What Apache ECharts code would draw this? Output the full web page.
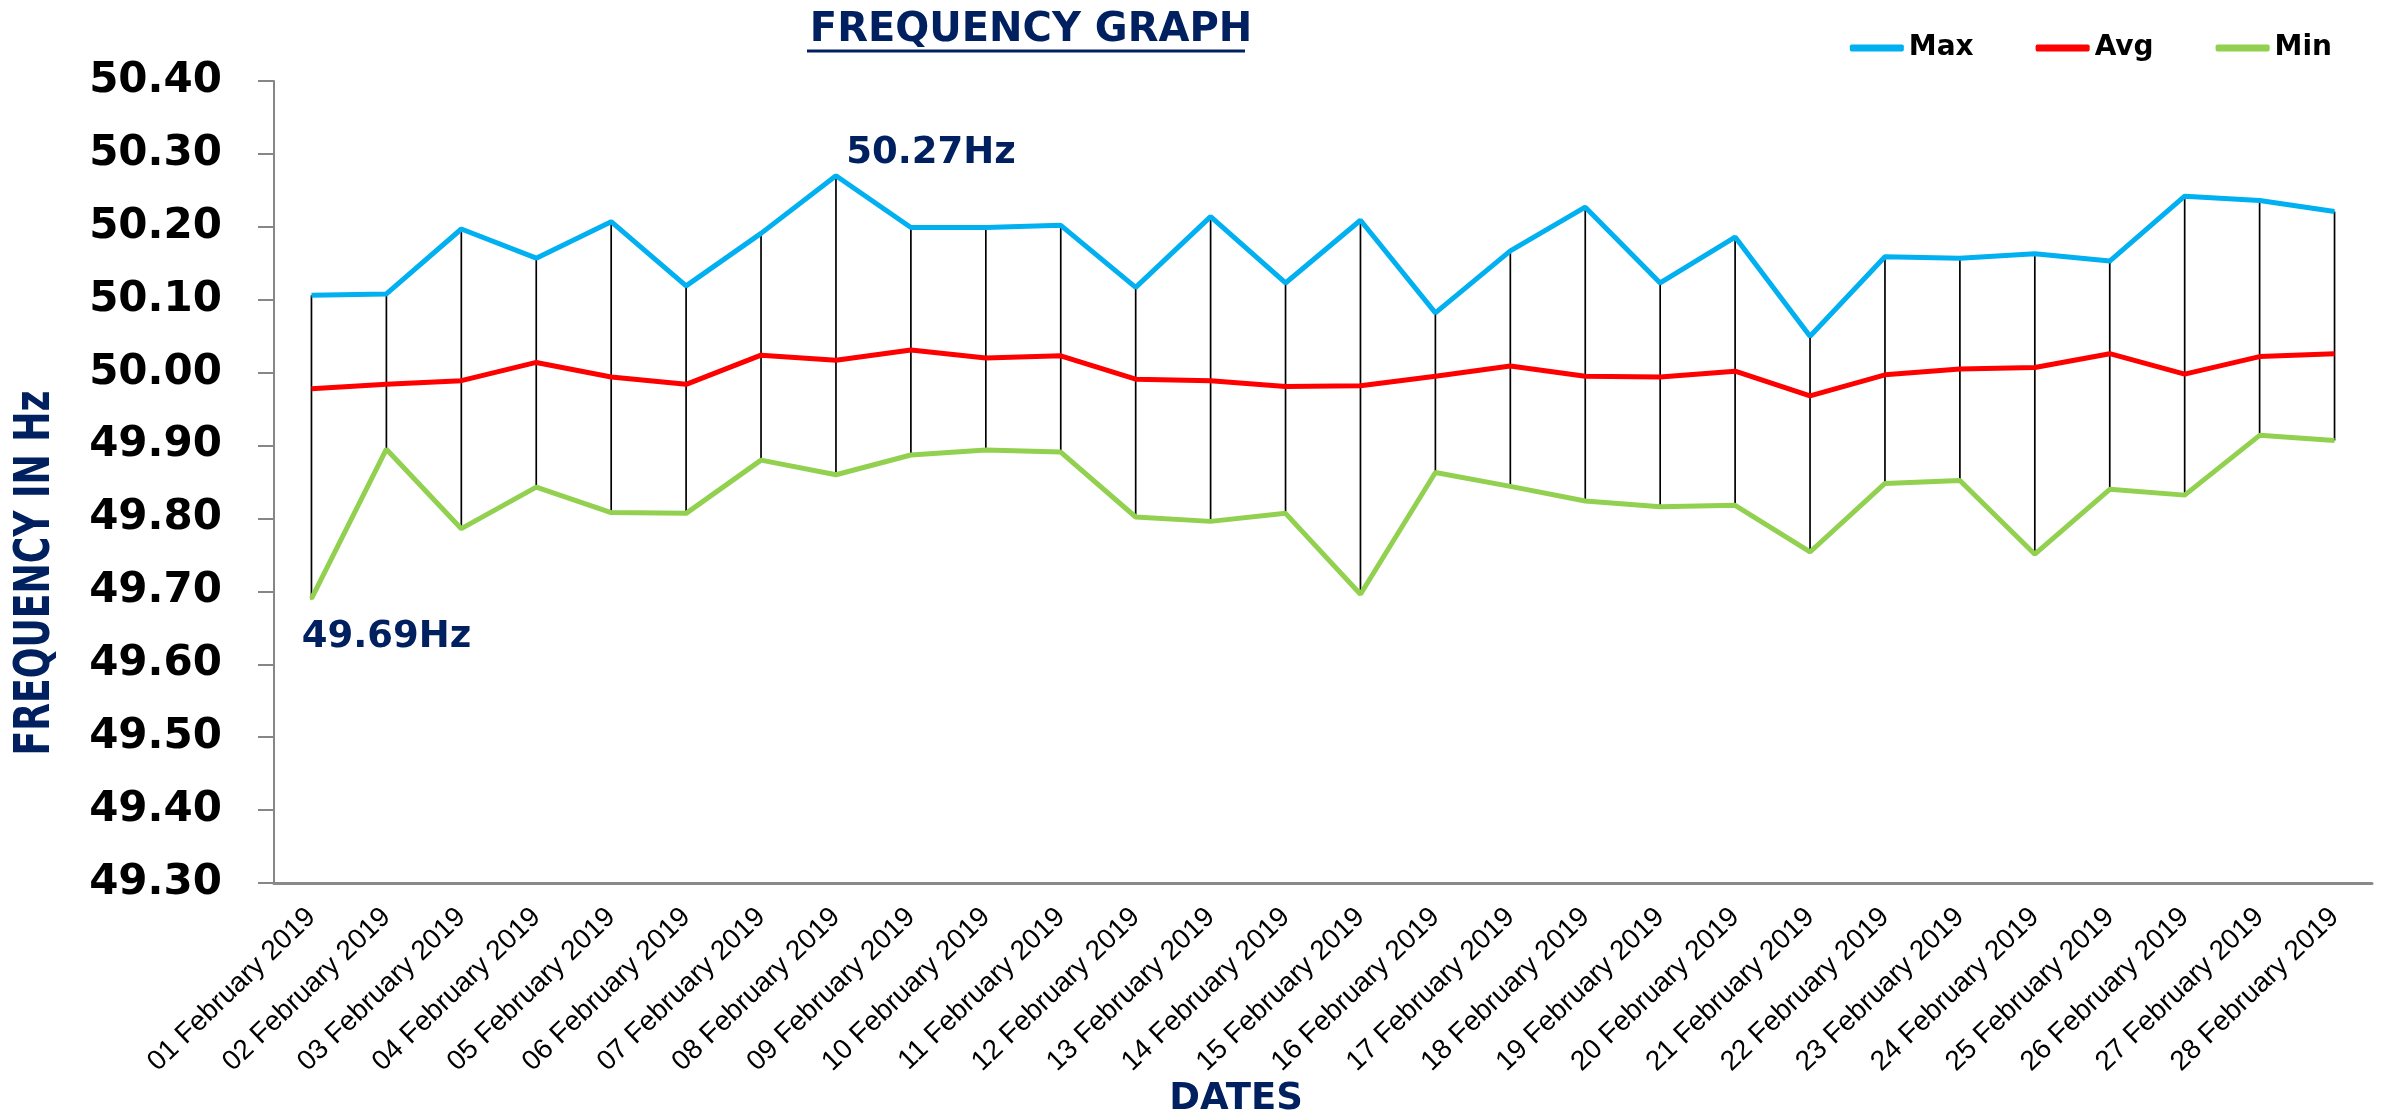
<!DOCTYPE html>
<html>
<head>
<meta charset="utf-8">
<script src="https://cdn.jsdelivr.net/npm/echarts@6/dist/echarts.min.js"></script>
<style>
  html, body { margin: 0; padding: 0; background: #fff; }
  #chart { width: 2387px; height: 1116px; }
</style>
</head>
<body>
<div id="chart"></div>
<script>
const dates = [
  '01 February 2019', '02 February 2019', '03 February 2019', '04 February 2019',
  '05 February 2019', '06 February 2019', '07 February 2019', '08 February 2019',
  '09 February 2019', '10 February 2019', '11 February 2019', '12 February 2019',
  '13 February 2019', '14 February 2019', '15 February 2019', '16 February 2019',
  '17 February 2019', '18 February 2019', '19 February 2019', '20 February 2019',
  '21 February 2019', '22 February 2019', '23 February 2019', '24 February 2019',
  '25 February 2019', '26 February 2019', '27 February 2019', '28 February 2019'
];
const maxHz = [50.106, 50.108, 50.197, 50.157, 50.207, 50.119, 50.191, 50.27,
  50.199, 50.199, 50.202, 50.117, 50.214, 50.123, 50.209, 50.082,
  50.167, 50.227, 50.123, 50.186, 50.050, 50.159, 50.157, 50.163,
  50.153, 50.242, 50.236, 50.221];
const avgHz = [49.978, 49.984, 49.989, 50.014, 49.994, 49.984, 50.024, 50.017,
  50.031, 50.020, 50.023, 49.991, 49.989, 49.981, 49.982, 49.995,
  50.009, 49.995, 49.994, 50.002, 49.968, 49.997, 50.005, 50.007,
  50.026, 49.998, 50.022, 50.026];
const minHz = [49.69, 49.895, 49.786, 49.843, 49.808, 49.807, 49.880, 49.860,
  49.887, 49.894, 49.891, 49.802, 49.796, 49.807, 49.696, 49.863,
  49.844, 49.824, 49.816, 49.818, 49.754, 49.848, 49.852, 49.751,
  49.840, 49.832, 49.914, 49.907];

// y axis range
const yMin = 49.3, yMax = 50.4, yStep = 0.1;

// which points carry the Hz callouts
const maxNoteIdx = 7;
const minNoteIdx = 0;

const navy = '#002060';
const boldFont = "'DejaVu Sans', sans-serif";

// one point with a visible label (line labels need a symbol to hang on)
function notePoint(v, color, pos, offset) {
  return {
    value: v,
    symbol: 'circle',
    symbolSize: 3,
    itemStyle: { color: color },
    label: {
      show: true,
      position: pos,
      offset: offset,
      formatter: function (p) { return p.value.toFixed(2) + 'Hz'; },
      color: navy,
      fontFamily: boldFont,
      fontWeight: 'bold',
      fontSize: 37
    }
  };
}

var myChart = echarts.init(document.getElementById('chart'));
var option = {
  animation: false,
  backgroundColor: '#fff',
  title: [
    {
      text: 'FREQUENCY GRAPH',
      left: 1026,
      top: 6,
      textAlign: 'center',
      textStyle: { color: navy, fontFamily: boldFont, fontWeight: 'bold', fontSize: 40 }
    },
    {
      text: 'DATES',
      left: 1231,
      top: 1076,
      textAlign: 'center',
      textStyle: { color: navy, fontFamily: boldFont, fontWeight: 'bold', fontSize: 37 }
    }
  ],
  graphic: [
    // title underline
    { type: 'line', shape: { x1: 807, y1: 51, x2: 1245, y2: 51 }, style: { stroke: navy, lineWidth: 3 } },
    {
      type: 'text',
      x: 36, y: 573,
      rotation: Math.PI / 2,
      scaleX: 0.82,
      style: {
        text: 'FREQUENCY IN Hz',
        fill: navy,
        font: "bold 49px 'DejaVu Sans Condensed', 'DejaVu Sans', sans-serif",
        align: 'center',
        verticalAlign: 'middle'
      }
    }
  ],
  legend: {
    data: ['Max', 'Avg', 'Min'],
    right: 50,
    top: 29,
    icon: 'roundRect',
    itemWidth: 54,
    itemHeight: 7,
    itemGap: 62,
    textStyle: { color: '#000', fontFamily: boldFont, fontWeight: 'bold', fontSize: 28 }
  },
  grid: {
    left: 274,
    right: 15,
    top: 81,
    bottom: 233
  },
  xAxis: {
    type: 'category',
    boundaryGap: true,
    data: dates,
    axisLine: { lineStyle: { color: '#898989', width: 3 } },
    axisTick: { show: false },
    axisLabel: {
      interval: 0,
      rotate: 44,
      margin: 30,
      color: '#000',
      fontFamily: "'Liberation Sans', sans-serif",
      fontSize: 28
    }
  },
  yAxis: {
    type: 'value',
    min: yMin,
    max: yMax,
    interval: yStep,
    splitLine: { show: false },
    axisLine: { show: true, lineStyle: { color: '#868686', width: 2 } },
    axisTick: { show: true, length: 16, lineStyle: { color: '#868686', width: 2 } },
    axisLabel: {
      margin: 52,
      color: '#000',
      fontFamily: boldFont,
      fontWeight: 'bold',
      fontSize: 42,
      formatter: function (v) { return v.toFixed(2); }
    }
  },
  series: [
    {
      // high-low lines between max and min
      type: 'custom',
      name: 'range',
      silent: true,
      z: 1,
      data: dates.map(function (d, i) { return [i, maxHz[i], minHz[i]]; }),
      renderItem: function (params, api) {
        var top = api.coord([api.value(0), api.value(1)]);
        var bot = api.coord([api.value(0), api.value(2)]);
        return {
          type: 'line',
          shape: { x1: top[0], y1: top[1], x2: bot[0], y2: bot[1] },
          style: { stroke: '#000', lineWidth: 1.7 }
        };
      }
    },
    {
      name: 'Max',
      type: 'line',
      z: 3,
      symbol: 'none',
      color: '#00B0F0',
      lineStyle: { width: 5, color: '#00B0F0' },
      data: maxHz.map(function (v, i) {
        return i === maxNoteIdx ? notePoint(v, '#00B0F0', 'top', [95, 3]) : v;
      })
    },
    {
      name: 'Avg',
      type: 'line',
      z: 3,
      symbol: 'none',
      color: '#FF0000',
      lineStyle: { width: 5, color: '#FF0000' },
      data: avgHz
    },
    {
      name: 'Min',
      type: 'line',
      z: 3,
      symbol: 'none',
      color: '#92D050',
      lineStyle: { width: 5, color: '#92D050' },
      data: minHz.map(function (v, i) {
        return i === minNoteIdx ? notePoint(v, '#92D050', 'bottom', [75, 14]) : v;
      })
    }
  ]
};

myChart.setOption(option);
window.addEventListener('resize', function () {
  myChart.resize();
});
</script>
</body>
</html>
